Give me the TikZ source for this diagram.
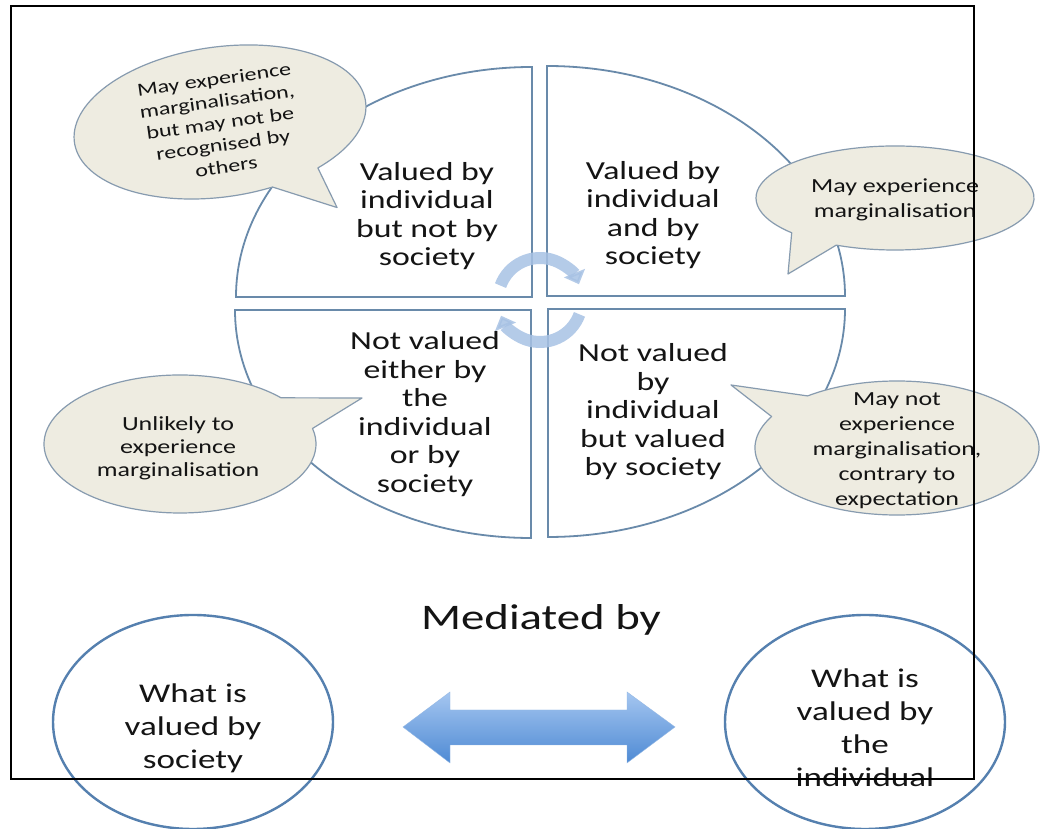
\documentclass[tikz,border=0pt]{standalone}
\usepackage{fontspec}
\setmainfont[FakeStretch=1.3]{Carlito}
\usetikzlibrary{arrows.meta}
\definecolor{quadline}{RGB}{105,138,170}
\definecolor{bubfill}{RGB}{238,236,225}
\definecolor{bubline}{RGB}{135,155,175}
\definecolor{circarr}{RGB}{168,194,228}
\definecolor{ovalline}{RGB}{85,128,175}
\definecolor{arrtop}{RGB}{165,198,240}
\definecolor{arrbot}{RGB}{78,138,212}
\definecolor{txt}{RGB}{20,20,20}
\begin{document}
\begin{tikzpicture}[x=1pt,y=1pt,
  quad/.style={draw=quadline,line width=1.8pt,fill=white,line join=miter},
  bubble/.style={draw=bubline,line width=1.2pt,fill=bubfill,line join=round},
  oval/.style={draw=ovalline,line width=2.4pt},
  circarrow/.style={draw=circarr,line width=12pt,opacity=0.85,-{Triangle[width=22pt,length=12pt]}},
  qtext/.style={text=txt,align=center,font=\fontsize{26}{28.5}\selectfont,inner sep=0pt},
  btext/.style={text=txt,align=center,font=\fontsize{20}{24.5}\selectfont,inner sep=0pt},
  otext/.style={text=txt,align=center,font=\fontsize{27}{33}\selectfont,inner sep=0pt},
  frameline/.style={draw=black,line width=1.2pt}
]
\useasboundingbox (0,0) rectangle (1050,829);
\fill[white] (0,0) rectangle (1050,829);

% quadrants
\draw[quad] (532,532) -- (236,532) arc[start angle=180,end angle=90,x radius=296,y radius=230] -- cycle;
\draw[quad] (547,533) -- (547,763) arc[start angle=90,end angle=0,x radius=298,y radius=230] -- cycle;
\draw[quad] (531,519) -- (235,519) arc[start angle=180,end angle=270,x radius=296,y radius=228] -- cycle;
\draw[quad] (548,520) -- (845,520) arc[start angle=0,end angle=-90,x radius=297,y radius=228] -- cycle;

% circular arrows
\coordinate (cc) at (540,529);
\draw[circarrow] ([shift={(160:42)}]cc) arc[start angle=160,end angle=22,radius=42];
\draw[circarrow] ([shift={(-20:42)}]cc) arc[start angle=-20,end angle=-158,radius=42];

% bubble 1 (rotated)
\begin{scope}[shift={(220,707)},rotate=8]
  \draw[bubble] (-52:147 and 75) arc[start angle=-52,end angle=287,x radius=147,y radius=75] -- (104,-101) -- cycle;
  \node[transform shape,text=txt,align=center,font=\fontsize{18.5}{22}\selectfont,inner sep=0pt] (b1) at (0,-1) {May experience\\marginalisation,\\but may not be\\recognised by\\others};
\end{scope}

% bubble 2
\begin{scope}[shift={(895,631)}]
  \draw[bubble] (245:139 and 52) arc[start angle=245,end angle=582,x radius=139,y radius=52] -- (-107,-76) -- cycle;
\end{scope}
\node[btext] (b2) at (895,629) {May experience\\marginalisation};

% bubble 3
\begin{scope}[shift={(180,385)}]
  \draw[bubble] (42:136 and 69) arc[start angle=42,end angle=373,x radius=136,y radius=69] -- (182,46) -- cycle;
\end{scope}
\node[text=txt,align=center,font=\fontsize{20}{23}\selectfont,inner sep=0pt] (b3) at (178,381) {Unlikely to\\experience\\marginalisation};

% bubble 4
\begin{scope}[shift={(897,381)}]
  \draw[bubble] (152:142 and 67) arc[start angle=152,end angle=489,x radius=142,y radius=67] -- (-166,63) -- cycle;
\end{scope}
\node[text=txt,align=center,font=\fontsize{20}{25}\selectfont,inner sep=0pt] (b4) at (897,378) {May not\\experience\\marginalisation,\\contrary to\\expectation};

% quadrant texts
\node[qtext] (tl) at (427,613) {Valued by\\individual\\but not by\\society};
\node[qtext] (tr) at (653,614) {Valued by\\individual\\and by\\society};
\node[qtext] (bl) at (425,415) {Not valued\\either by\\the\\individual\\or by\\society};
\node[qtext] (br) at (653,417) {Not valued\\by\\individual\\but valued\\by society};

% mediated by
\node[text=txt,font=\fontsize{36}{40}\selectfont,inner sep=0pt,anchor=base] (med) at (541,199) {Mediated by};

% bottom ovals
\draw[oval] (193,107) ellipse[x radius=140,y radius=107];
\draw[oval] (865,107) ellipse[x radius=140,y radius=107];
\node[otext] (soc) at (193,101) {What is\\valued by\\society};
\node[otext] (ind) at (865,101) {What is\\valued by\\the\\individual};

% double block arrow
\shade[top color=arrtop,bottom color=arrbot,draw=arrbot!60,line width=0.4pt]
  (403,102) -- (450,137) -- (450,119) -- (627,119) -- (627,137) -- (675,102)
  -- (627,66) -- (627,84) -- (450,84) -- (450,66) -- cycle;

% frame
\draw[frameline] (11,50) rectangle (974,823);
\end{tikzpicture}
\end{document}
